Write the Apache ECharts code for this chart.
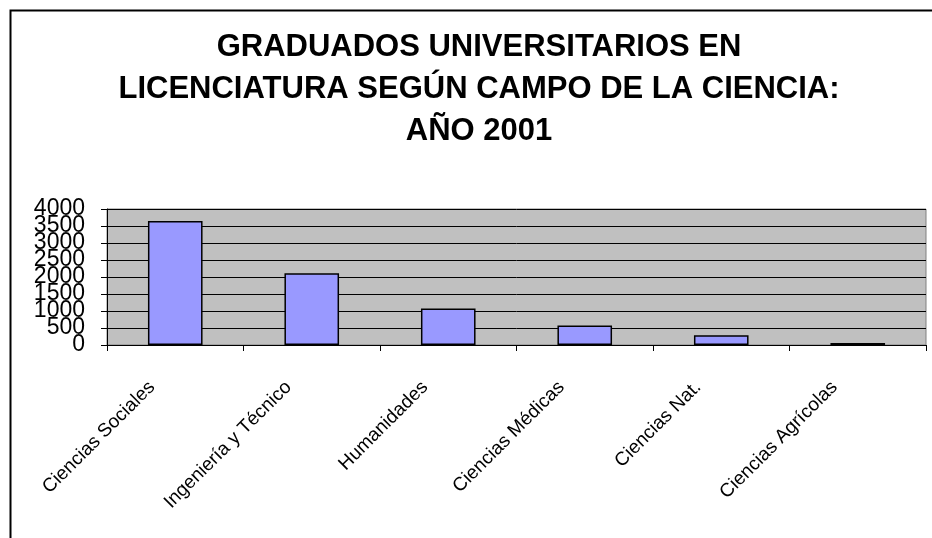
<!DOCTYPE html>
<html>
<head>
<meta charset="utf-8">
<script src="https://cdn.jsdelivr.net/npm/echarts@6/dist/echarts.min.js"></script>
<style>
    html, body { margin: 0; padding: 0; background: #fff; }
    #chart { width: 932px; height: 538px; }
</style>
</head>
<body>
<div id="chart"></div>
<script>
    // datos
    var titulo = 'GRADUADOS UNIVERSITARIOS EN\nLICENCIATURA SEGÚN CAMPO DE LA CIENCIA:\nAÑO 2001';
    var campos = ['Ciencias Sociales', 'Ingeniería y Técnico', 'Humanidades', 'Ciencias Médicas', 'Ciencias Nat.', 'Ciencias Agrícolas'];
    var graduados = [3650, 2110, 1070, 570, 285, 60];
    var yMin = 0, yMax = 4000, yPaso = 500;

    var chart = echarts.init(document.getElementById('chart'));

    // las etiquetas del eje Y se solapan en el original; se reparten en dos ejes
    // para que echarts no oculte ninguna
    function ejeY(pares, visible) {
        return {
            type: 'value',
            position: 'left',
            min: yMin, max: yMax, interval: yPaso,
            axisLine: { show: visible, lineStyle: { color: '#000', width: 1 } },
            axisTick: { show: visible, length: 6, lineStyle: { color: '#000' } },
            splitLine: { show: visible, lineStyle: { color: '#000', width: 1 } },
            axisLabel: {
                fontSize: 23, color: '#000', margin: 22,
                hideOverlap: false,
                formatter: function (v) {
                    var esPar = (v / yPaso) % 2 === 0;
                    return esPar === pares ? String(v) : '';
                }
            }
        };
    }

    chart.setOption({
        animation: false,
        textStyle: { fontFamily: 'Liberation Sans, Arial, sans-serif' },
        title: {
            text: titulo,
            left: 474,
            textAlign: 'center',
            top: 21,
            textStyle: { fontSize: 31, fontWeight: 'bold', color: '#000', lineHeight: 42 }
        },
        graphic: [{
            type: 'rect',
            left: 8, top: 8,
            shape: { width: 1000, height: 1000 },
            style: { fill: null, stroke: '#000', lineWidth: 2 }
        }],
        grid: {
            left: 107, right: 6, top: 209, bottom: 193,
            show: true,
            backgroundColor: '#C0C0C0',
            borderColor: '#808080',
            borderWidth: 1
        },
        xAxis: {
            type: 'category',
            data: campos,
            axisLine: { lineStyle: { color: '#000', width: 1 } },
            axisTick: { show: true, length: 6, lineStyle: { color: '#000' } },
            axisLabel: {
                rotate: 45,
                margin: 16,
                padding: [0, 33, 0, 0],
                interval: 0,
                fontSize: 19,
                color: '#000'
            }
        },
        yAxis: [ejeY(true, true), ejeY(false, false)],
        series: [{
            type: 'bar',
            data: graduados,
            yAxisIndex: 0,
            barCategoryGap: '60%',
            itemStyle: { color: '#9999FF', borderColor: '#000', borderWidth: 1.5 }
        }]
    });
</script>
</body>
</html>
